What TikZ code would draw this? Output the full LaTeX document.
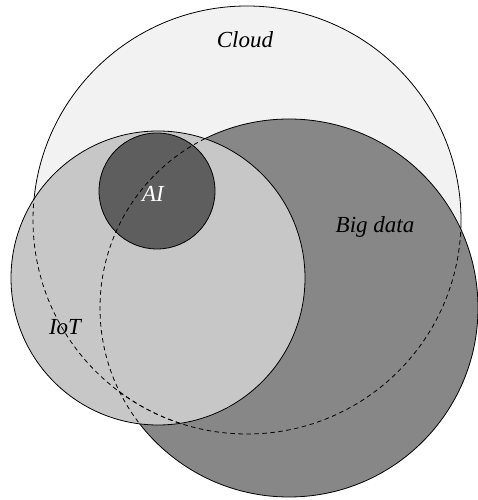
\documentclass[tikz,border=0pt]{standalone}
\usepackage{fontspec}
\setmainfont{Liberation Serif}
\usepackage{tikz}
\usetikzlibrary{positioning}
\definecolor{cloudgray}{gray}{0.95}
\definecolor{datagray}{gray}{0.53}
\definecolor{iotgray}{gray}{0.78}
\definecolor{aigray}{gray}{0.37}
\tikzset{circ/.style = {draw, line width = 0.8pt}}
\tikzset{hidden/.style = {line width = 0.8pt, dash pattern = on 4.5pt off 3.5pt}}
\tikzset{lbl/.style = {font = \fontsize{23}{27}\selectfont\itshape, inner sep = 0}}

\begin{document}
\begin{tikzpicture}[x = 1pt, y = 1pt]
      \useasboundingbox (0, 0) rectangle (478, 500);
      \coordinate (cloud) at (247, 280);
      \coordinate (data) at (289, 192);
      \coordinate (iot) at (158, 222);
      \coordinate (ai) at (157, 309);
      \draw [circ, fill=cloudgray] (cloud) circle (214);
      \draw [circ, fill=datagray] (data) circle (189);
      \draw [circ, fill=iotgray] (iot) circle (147);
      \draw [circ, fill=aigray] (ai) circle (58);
      % covered outlines
      \begin{scope}
        \clip (data) circle (188.6);
        \draw [hidden] (cloud) circle (214);
      \end{scope}
      \begin{scope}
        \clip (iot) circle (146.6);
        \draw [hidden] (cloud) circle (214);
        \draw [hidden] (data) circle (189);
      \end{scope}
      \node [lbl] (cloudlbl) at (245, 460) {Cloud};
      \node [lbl] (datalbl) at (375, 273) {Big data};
      \node [lbl, text=white] (ailbl) at (153, 306) {AI};
      \node [lbl] (iotlbl) at (65, 173) {IoT};
    \end{tikzpicture}
\end{document}
